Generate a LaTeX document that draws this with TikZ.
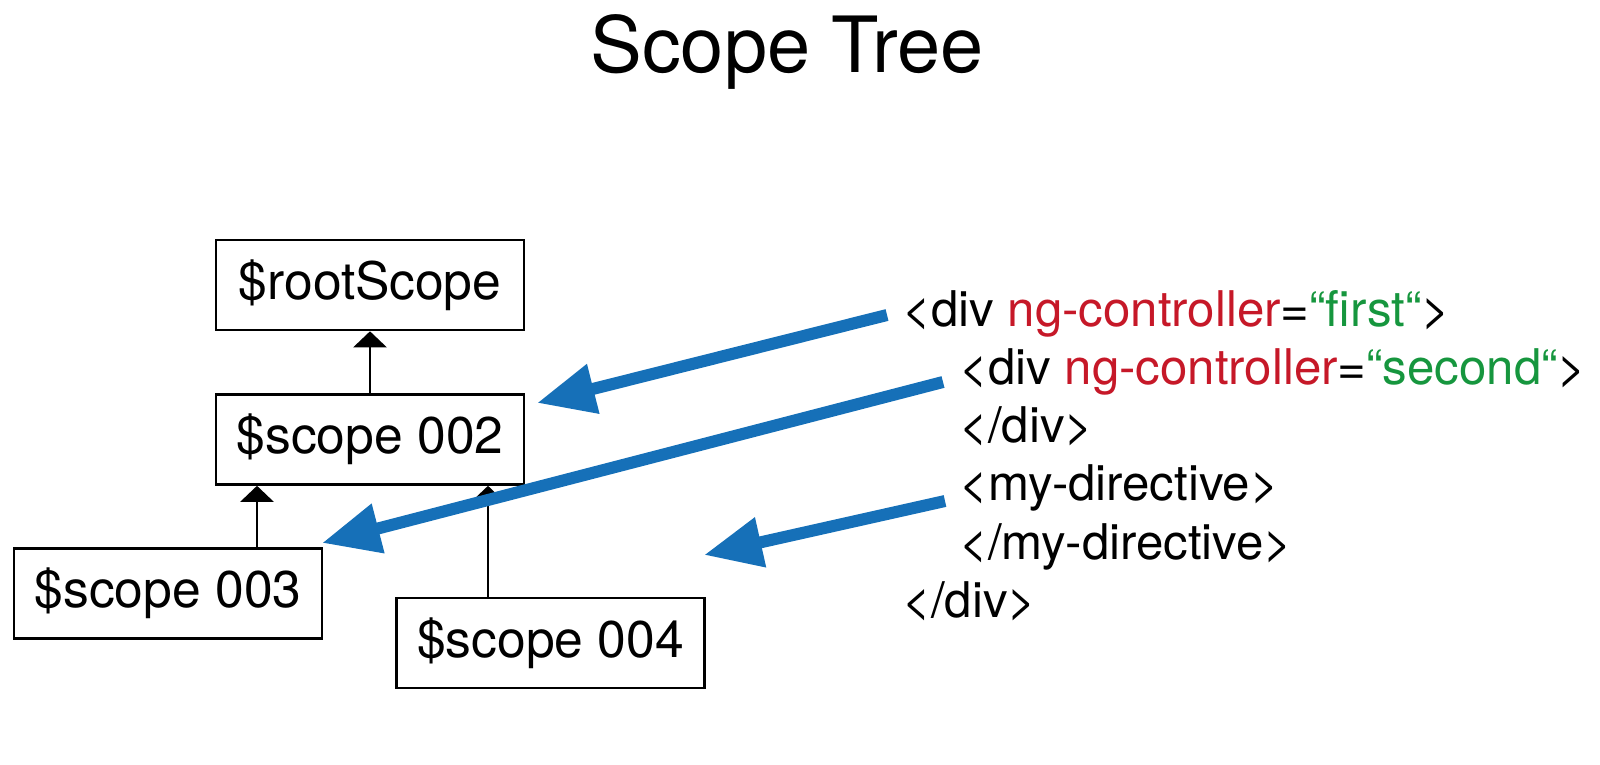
\documentclass[tikz,border=0pt]{standalone}
\usepackage{fontspec}
\setmainfont{TeX Gyre Heros}
\usetikzlibrary{arrows.meta,positioning}

\definecolor{ngblue}{RGB}{22,112,184}
\definecolor{ngred}{RGB}{198,24,40}
\definecolor{nggreen}{RGB}{22,150,62}

\begin{document}
\begin{tikzpicture}[x=0.5pt,y=-0.5pt,
  scopebox/.style={draw,line width=1.3pt,minimum width=154pt,minimum height=45pt,
    inner sep=0pt,font=\fontsize{25.8}{30}\selectfont},
  parent/.style={line width=1.3pt,-{Triangle[length=8pt,width=16.5pt]}},
  code/.style={anchor=base west,inner sep=0pt,font=\fontsize{24.6}{29}\selectfont},
  pointer/.style={ngblue,line width=6pt,-{Triangle[length=29pt,width=24pt]}}]

\useasboundingbox (0,0) rectangle (1600,765);

% Title
\node[anchor=base,font=\fontsize{38.8}{46}\selectfont] (title) at (787,73) {Scope Tree};

% ---- Scope tree ----
\node[scopebox] (root) at (370,285)   {\$rootScope};
\node[scopebox] (s002) at (370,439.5) {\$scope 002};
\node[scopebox] (s003) at (168,593.5) {\$scope 003};
\node[scopebox] (s004) at (550.5,643) {\$scope 004};

\draw[parent] (s002) -- (root);
\draw[parent] ([xshift=44.5pt]s003.north) -- ([xshift=-56.5pt]s002.south);
\draw[parent] ([xshift=-31.25pt]s004.north) -- ([xshift=59pt]s002.south);

% ---- Markup ----
\node[code] (line1) at (902,326) {<div \textcolor{ngred}{ng-controller}=\textcolor{nggreen}{“first“}>};
\node[code] (line2) at (959,384) {<div \textcolor{ngred}{ng-controller}=\textcolor{nggreen}{“second“}>};
\node[code] (line3) at (959,442) {</div>};
\node[code] (line4) at (959,500) {<my-directive>};
\node[code] (line5) at (959,559) {</my-directive>};
\node[code] (line6) at (902,617) {</div>};

% ---- Pointers ----
\coordinate (from1) at (887,315);
\coordinate (to1)   at (537,403);
\coordinate (from2) at (943,382);
\coordinate (to2)   at (322,543);
\coordinate (from3) at (945,501);
\coordinate (to3)   at (704,555);

\draw[pointer] (from1) -- (to1);
\draw[pointer] (from2) -- (to2);
\draw[pointer] (from3) -- (to3);

\end{tikzpicture}
\end{document}
